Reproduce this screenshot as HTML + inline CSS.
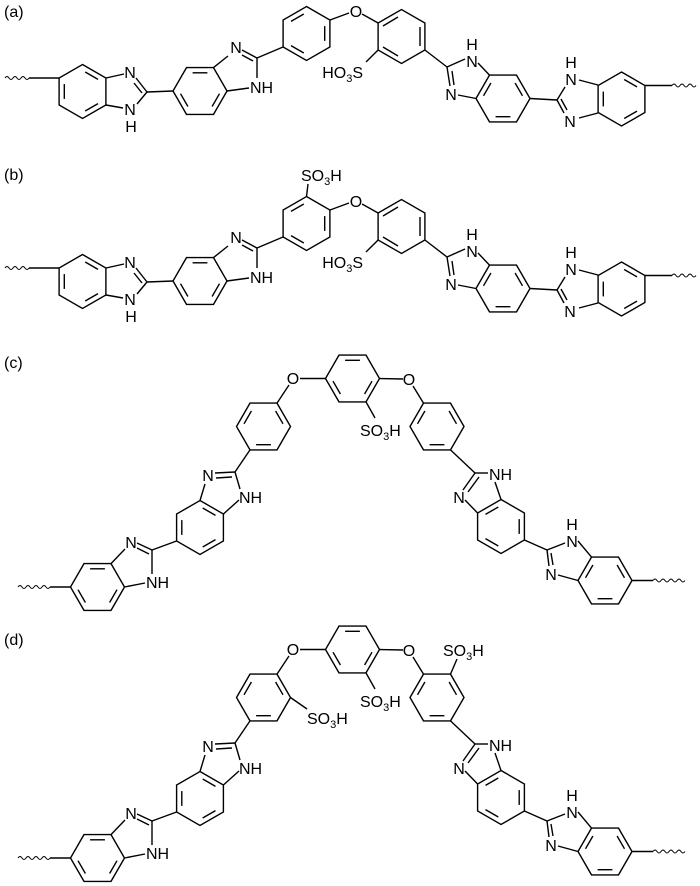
<!DOCTYPE html>
<html><head><meta charset="utf-8"><style>
html,body{margin:0;padding:0;background:#fff;}
svg{display:block;}
text{font-family:"Liberation Sans",Arial,sans-serif;font-size:16px;fill:#000;}
</style></head><body>
<svg width="700" height="886" viewBox="0 0 700 886" xmlns="http://www.w3.org/2000/svg">
<defs>
<g id="PA" fill="none" stroke="#000" stroke-width="1.4">
<polygon points="0,-27 23.4,-13.5 23.4,13.5 0,27 -23.4,13.5 -23.4,-13.5"/>
<line x1="2.7" y1="-19.5" x2="15.5" y2="-12.1"/><line x1="15.5" y1="12.1" x2="2.7" y2="19.5"/><line x1="-18.2" y1="7.4" x2="-18.2" y2="-7.4"/>
</g>
<g id="PB" fill="none" stroke="#000" stroke-width="1.4">
<polygon points="0,-27 23.4,-13.5 23.4,13.5 0,27 -23.4,13.5 -23.4,-13.5"/>
<line x1="18.2" y1="-7.4" x2="18.2" y2="7.4"/><line x1="-2.7" y1="19.5" x2="-15.5" y2="12.1"/><line x1="-15.5" y1="-12.1" x2="-2.7" y2="-19.5"/>
</g>
<g id="FA" fill="none" stroke="#000" stroke-width="1.4">
<polygon points="27,0 13.5,23.4 -13.5,23.4 -27,0 -13.5,-23.4 13.5,-23.4"/>
<line x1="-19.5" y1="2.7" x2="-12.1" y2="15.5"/><line x1="12.1" y1="15.5" x2="19.5" y2="2.7"/><line x1="7.4" y1="-18.2" x2="-7.4" y2="-18.2"/>
</g>
<g id="FB" fill="none" stroke="#000" stroke-width="1.4">
<polygon points="27,0 13.5,23.4 -13.5,23.4 -27,0 -13.5,-23.4 13.5,-23.4"/>
<line x1="-7.4" y1="18.2" x2="7.4" y2="18.2"/><line x1="19.5" y1="-2.7" x2="12.1" y2="-15.5"/><line x1="-12.1" y1="-15.5" x2="-19.5" y2="-2.7"/>
</g>

<g id="chainA">
<g fill="none" stroke="#000" stroke-width="1.4">
<path d="M5,78 q2,-3 4,0 t4,0 t4,0 t4,0 t4,0 t4,0" stroke-width="1"/>
<line x1="29" y1="78" x2="59" y2="78"/>
<line x1="106" y1="78" x2="124" y2="74"/>
<line x1="136" y1="78" x2="147" y2="92"/><line x1="134" y1="83" x2="142" y2="93"/>
<line x1="147" y1="92" x2="137" y2="104"/>
<line x1="106" y1="105" x2="123" y2="108"/>
<line x1="147" y1="92" x2="173" y2="91"/>
<line x1="213.5" y1="67.6" x2="228" y2="56"/>
<line x1="242" y1="50" x2="257" y2="58"/><line x1="242" y1="55" x2="253" y2="61"/>
<line x1="257" y1="58" x2="257" y2="78"/>
<line x1="227" y1="91" x2="249" y2="88"/>
<line x1="257" y1="58" x2="283" y2="47"/>
<line x1="330" y1="20" x2="349" y2="13"/>
<line x1="362" y1="14" x2="378.1" y2="23"/>
<polygon points="378.1,23 401.5,9.5 424.9,23 424.9,50 401.5,63.5 378.1,50"/>
<line x1="383" y1="26" x2="398" y2="17"/><line x1="420" y1="27" x2="420" y2="46"/><line x1="383" y1="47" x2="398" y2="56"/>
<line x1="378.1" y1="50" x2="366" y2="62"/>
<line x1="424.9" y1="50" x2="447" y2="67"/>
<line x1="447" y1="67" x2="465" y2="59"/>
<line x1="447" y1="67" x2="450" y2="86"/><line x1="452" y1="71" x2="454" y2="85"/>
<line x1="489.5" y1="75.1" x2="478" y2="63"/>
<line x1="476" y1="98.5" x2="458" y2="95"/>
<line x1="530" y1="98.5" x2="557" y2="100"/>
<line x1="557" y1="100" x2="565" y2="87"/>
<line x1="557" y1="100" x2="564" y2="113"/><line x1="561" y1="99" x2="567" y2="110"/>
<line x1="598" y1="85" x2="579" y2="80"/>
<line x1="598" y1="113" x2="579" y2="118"/>
<line x1="644.9" y1="85.5" x2="672" y2="85.5"/>
<path d="M672,85.5 q2,-3 4,0 t4,0 t4,0 t4,0 t4,0 t4,0" stroke-width="1"/>
</g>
<use href="#PA" x="82.5" y="91.5"/>
<use href="#FA" x="200" y="91"/>
<use href="#PB" x="306.5" y="33.5"/>
<use href="#FB" x="503" y="98.5"/>
<use href="#PA" x="621.5" y="99"/>
<text x="130" y="78" text-anchor="middle">N</text>
<text x="130" y="115" text-anchor="middle">N</text>
<text x="131" y="132" text-anchor="middle">H</text>
<text x="236" y="53" text-anchor="middle">N</text>
<text x="250" y="93">NH</text>
<text x="356" y="17" text-anchor="middle">O</text>
<text x="363" y="78" text-anchor="end">HO<tspan font-size="11" dy="4">3</tspan><tspan dy="-4">S</tspan></text>
<text x="472" y="67" text-anchor="middle">N</text>
<text x="472" y="50" text-anchor="middle">H</text>
<text x="451" y="100" text-anchor="middle">N</text>
<text x="571" y="85" text-anchor="middle">N</text>
<text x="571" y="68" text-anchor="middle">H</text>
<text x="570" y="127" text-anchor="middle">N</text>
</g>

<g id="chainC">
<g fill="none" stroke="#000" stroke-width="1.4">
<path d="M18,587 q2,-3 4,0 t4,0 t4,0 t4,0 t4,0 t4,0 t4,0 t4,0" stroke-width="1"/>
<line x1="50" y1="587" x2="70.5" y2="587"/>
<line x1="111" y1="563.6" x2="125" y2="549"/>
<line x1="137" y1="543" x2="152" y2="550"/><line x1="137" y1="548" x2="149" y2="554"/>
<line x1="152" y1="550" x2="152" y2="574"/>
<line x1="124.5" y1="587" x2="145" y2="583"/>
<line x1="152" y1="550" x2="176.6" y2="541"/>
<line x1="200" y1="500.5" x2="205" y2="484"/>
<line x1="215" y1="473" x2="235" y2="472"/><line x1="216" y1="478" x2="232" y2="477"/>
<line x1="235" y1="472" x2="240" y2="489"/>
<line x1="223.4" y1="514" x2="239" y2="500"/>
<line x1="235" y1="472" x2="250" y2="449.9"/>
<line x1="277" y1="403.1" x2="289" y2="385"/>
<line x1="300" y1="378.5" x2="325.5" y2="378.5"/>
<line x1="379.5" y1="378.5" x2="403" y2="379"/>
<line x1="413" y1="386" x2="423.5" y2="403.1"/>
<line x1="366" y1="401.9" x2="375" y2="418"/>
<line x1="450.5" y1="449.9" x2="475" y2="473"/>
<line x1="475" y1="473" x2="488" y2="473"/>
<line x1="475" y1="473" x2="463" y2="490"/><line x1="479" y1="477" x2="468" y2="492"/>
<line x1="495" y1="482" x2="501" y2="499.5"/>
<line x1="465" y1="500" x2="477.6" y2="513"/>
<line x1="524.4" y1="540" x2="547" y2="550"/>
<line x1="547" y1="550" x2="565" y2="543"/>
<line x1="547" y1="550" x2="549" y2="566"/><line x1="551" y1="553" x2="553" y2="565"/>
<line x1="578" y1="541" x2="591.5" y2="557.1"/>
<line x1="558" y1="575" x2="578" y2="580.5"/>
<line x1="632" y1="580.5" x2="653" y2="580.5"/>
<path d="M653,580.5 q2,-3 4,0 t4,0 t4,0 t4,0 t4,0 t4,0 t4,0 t4,0" stroke-width="1"/>
</g>
<use href="#FA" x="97.5" y="587"/>
<use href="#PA" x="200" y="527.5"/>
<use href="#FB" x="263.5" y="426.5"/>
<use href="#FA" x="352.5" y="378.5"/>
<use href="#FB" x="437" y="426.5"/>
<use href="#PB" x="501" y="526.5"/>
<use href="#FB" x="605" y="580.5"/>
<text x="131" y="548" text-anchor="middle">N</text>
<text x="146" y="588">NH</text>
<text x="208" y="481" text-anchor="middle">N</text>
<text x="239" y="503">NH</text>
<text x="293" y="384" text-anchor="middle">O</text>
<text x="409" y="385" text-anchor="middle">O</text>
<text x="360" y="436">SO<tspan font-size="11" dy="4">3</tspan><tspan dy="-4">H</tspan></text>
<text x="489" y="480">NH</text>
<text x="459" y="503" text-anchor="middle">N</text>
<text x="572" y="530" text-anchor="middle">H</text>
<text x="572" y="547" text-anchor="middle">N</text>
<text x="551" y="580" text-anchor="middle">N</text>
</g>
</defs>

<text x="4" y="17">(a)</text>
<use href="#chainA"/>

<text x="4" y="180">(b)</text>
<use href="#chainA" y="190"/>
<line x1="306.5" y1="196.5" x2="308" y2="184" stroke="#000" stroke-width="1.4"/>
<text x="301" y="181">SO<tspan font-size="11" dy="4">3</tspan><tspan dy="-4">H</tspan></text>

<text x="4" y="368">(c)</text>
<use href="#chainC"/>

<text x="4" y="645">(d)</text>
<use href="#chainC" y="271"/>
<line x1="290.5" y1="697.5" x2="307" y2="709" stroke="#000" stroke-width="1.4"/>
<text x="307" y="724">SO<tspan font-size="11" dy="4">3</tspan><tspan dy="-4">H</tspan></text>
<line x1="450.5" y1="674.1" x2="457" y2="659" stroke="#000" stroke-width="1.4"/>
<text x="443" y="656">SO<tspan font-size="11" dy="4">3</tspan><tspan dy="-4">H</tspan></text>
</svg>
</body></html>
